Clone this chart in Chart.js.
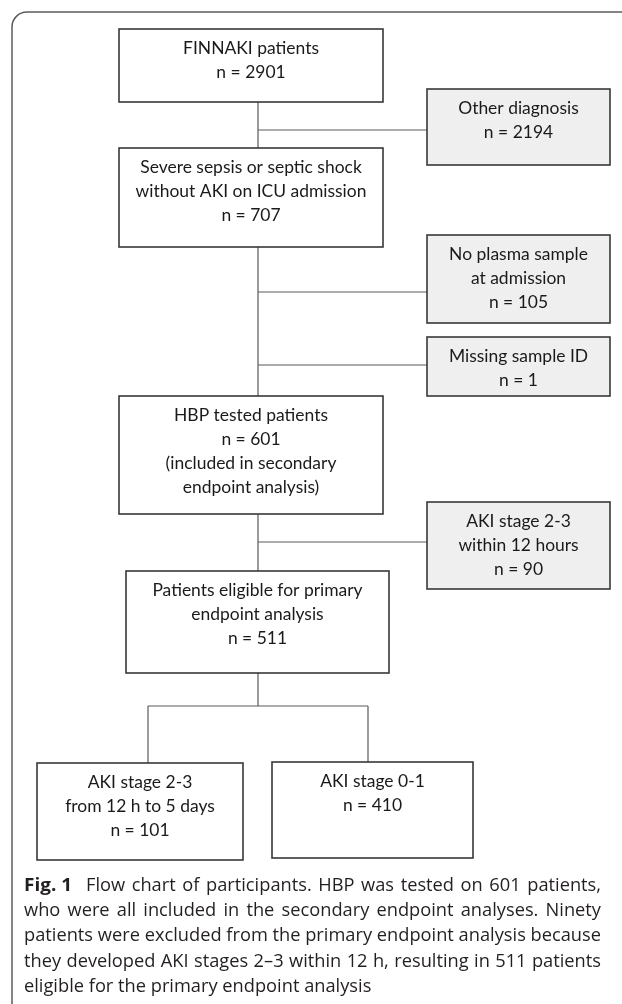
<!DOCTYPE html>
<html><head><meta charset="utf-8">
<script src="https://cdn.jsdelivr.net/npm/chart.js@4"></script>
<style>html,body{margin:0;padding:0;background:#fff}#wrap{width:622px;height:1004px;position:relative;overflow:hidden}</style>
</head><body><div id="wrap"><canvas id="c" width="622" height="1004"></canvas></div>
<script>
// ---- data ----
const boxTitles = [
  ["FINNAKI patients"],
  ["Other diagnosis"],
  ["Severe sepsis or septic shock", "without AKI on ICU admission"],
  ["No plasma sample", "at admission"],
  ["Missing sample ID"],
  ["HBP tested patients"],
  ["AKI stage 2-3", "within 12 hours"],
  ["Patients eligible for primary", "endpoint analysis"],
  ["AKI stage 2-3", "from 12 h to 5 days"],
  ["AKI stage 0-1"]
];
const boxCounts = [2901, 2194, 707, 105, 1, 601, 90, 511, 101, 410];
const boxNotes = [[], [], [], [], [], ["(included in secondary", "endpoint analysis)"], [], [], [], []];
const boxExcluded = [false, true, false, true, true, false, true, false, false, false];
const captionLabel = "Fig. 1";
const captionLines = [
  "Flow chart of participants. HBP was tested on 601 patients,",
  "who were all included in the secondary endpoint analyses. Ninety",
  "patients were excluded from the primary endpoint analysis because",
  "they developed AKI stages 2\u20133 within 12 h, resulting in 511 patients",
  "eligible for the primary endpoint analysis"
];

// ---- layout (diagram coordinates) ----
const boxLayout = [
  [119, 383, 29, 102], [427, 610, 89, 165], [119, 383, 148, 247], [427, 610, 235, 323],
  [427, 610, 337, 396], [119, 383, 396, 514], [427, 610, 502, 589], [126, 389, 571, 673],
  [37, 243, 763, 860], [272, 473, 762, 858]
];
const connectorLayout = [
  [[258, 102], [258, 148]], [[258, 130], [427, 130]],
  [[258, 247], [258, 396]], [[258, 292], [427, 292]], [[258, 365], [427, 365]],
  [[258, 514], [258, 571]], [[258, 542], [427, 542]],
  [[258, 673], [258, 706]], [[148, 706], [368, 706]],
  [[148, 706], [148, 763]], [[368, 706], [368, 762]]
];
const captionX = [24, 601];
const captionY = [886, 911, 936, 962, 987];

const flowPlugin = {
  id: 'flow',
  afterDatasetsDraw(chart) {
    const ctx = chart.ctx, X = v => chart.scales.x.getPixelForValue(v), Y = v => chart.scales.y.getPixelForValue(v);
    ctx.save();
    // outer frame
    ctx.strokeStyle = '#5c5c5c'; ctx.lineWidth = 1.5;
    ctx.beginPath();
    ctx.moveTo(X(12), Y(1010)); ctx.lineTo(X(12), Y(27));
    ctx.arcTo(X(12), Y(12), X(27), Y(12), 15);
    ctx.lineTo(X(640), Y(12));
    ctx.stroke();
    // box font size fitted
    ctx.font = '18px Lato';
    const bfs = 18 * 136 / ctx.measureText('FINNAKI patients').width;
    ctx.font = bfs + 'px Lato';
    boxLayout.forEach((b, i) => {
      const x0 = X(b[0]), x1 = X(b[1]), y0 = Y(b[2]), y1 = Y(b[3]);
      ctx.fillStyle = boxExcluded[i] ? '#efefef' : '#ffffff';
      ctx.fillRect(x0, y0, x1 - x0, y1 - y0);
      ctx.strokeStyle = '#383838'; ctx.lineWidth = 1.6;
      ctx.strokeRect(x0, y0, x1 - x0, y1 - y0);
      const lines = boxTitles[i].concat(['n = ' + boxCounts[i]], boxNotes[i]);
      ctx.fillStyle = '#1a1a1a'; ctx.textAlign = 'center'; ctx.textBaseline = 'middle';
      lines.forEach((t, k) => ctx.fillText(t, (x0 + x1) / 2, Y(b[2] + 19.5 + 23.8 * k)));
    });
    // caption (slightly condensed to mimic a narrow humanist face)
    ctx.textAlign = 'left'; ctx.textBaseline = 'middle'; ctx.fillStyle = '#231f20';
    const cfs = 17.5;
    const reg = cfs + 'px "Open Sans"', bold = 'bold ' + (cfs * 1.04) + 'px "Open Sans"';
    ctx.font = reg;
    const target = X(captionX[1]) - X(captionX[0]);
    const sx = target / ctx.measureText(captionLines[2]).width;
    captionLines.forEach((line, li) => {
      const toks = line.split(' ').map(w => ({ t: w, f: reg }));
      if (li === 0) toks.unshift({ t: captionLabel, f: bold, extra: cfs * 0.4 });
      toks.forEach(tk => { ctx.font = tk.f; tk.w = ctx.measureText(tk.t).width; });
      ctx.font = reg; const sp = ctx.measureText(' ').width;
      const total = toks.reduce((s, tk) => s + tk.w + (tk.extra || 0), 0);
      const justify = li < captionLines.length - 1;
      const gap = justify ? (target / sx - total) / (toks.length - 1) : sp;
      ctx.save();
      ctx.translate(X(captionX[0]), Y(captionY[li]));
      ctx.scale(sx, 1);
      let x = 0;
      toks.forEach(tk => { ctx.font = tk.f; ctx.fillText(tk.t, x, 0); x += tk.w + (tk.extra || 0) + gap; });
      ctx.restore();
    });
    ctx.restore();
  }
};

new Chart(document.getElementById('c'), {
  type: 'scatter',
  data: {
    datasets: connectorLayout.map(seg => ({
      data: seg.map(p => ({ x: p[0], y: p[1] })),
      showLine: true, borderColor: '#5a5a5a', borderWidth: 1.2, pointRadius: 0, pointHoverRadius: 0
    }))
  },
  options: {
    responsive: false, animation: false, devicePixelRatio: 1,
    layout: { padding: 0 },
    plugins: { legend: { display: false }, tooltip: { enabled: false } },
    events: [],
    scales: {
      x: { type: 'linear', min: 0, max: 622, display: false },
      y: { type: 'linear', min: 0, max: 1004, reverse: true, display: false }
    }
  },
  plugins: [flowPlugin]
});
</script></body></html>
